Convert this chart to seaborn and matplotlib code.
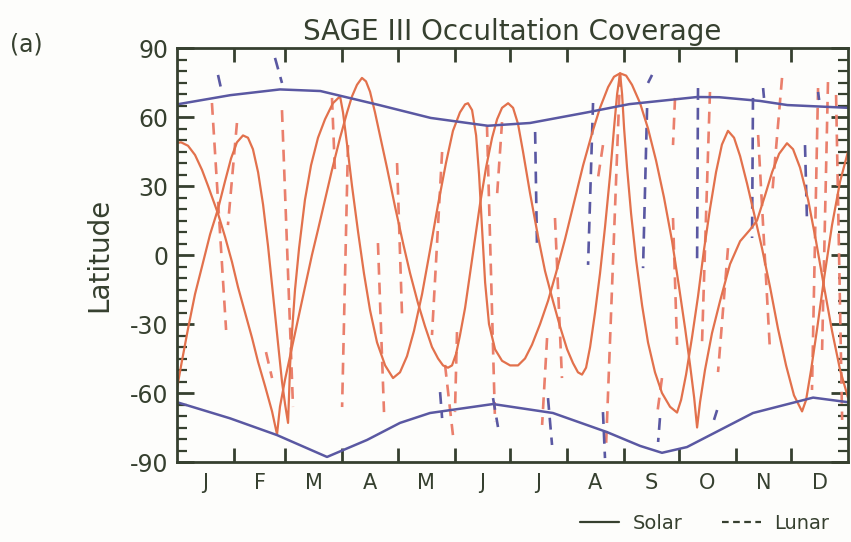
import matplotlib
matplotlib.use("Agg")
import matplotlib.pyplot as plt
from matplotlib.lines import Line2D
import seaborn as sns
import numpy as np
import pandas as pd

# month boundaries (day of year) and labels
month_edges = [0, 31, 59, 90, 120, 151, 181, 212, 243, 273, 304, 334, 365]
month_labels = ['J', 'F', 'M', 'A', 'M', 'J', 'J', 'A', 'S', 'O', 'N', 'D']

# solar occultation envelopes (blue)
north_day = [0, 29, 56, 78, 110, 138, 169, 192, 223, 246, 283, 295, 317, 332, 365]
north_lat = [65.5, 69.5, 72, 71.3, 65.2, 59.6, 56.2, 57.4, 62, 65.6, 68.7, 68.6, 67, 65.2, 64]
south_day = [0, 28.8, 54.4, 81.6, 103.4, 121.3, 137.6, 171.9, 204.5, 233.9, 251.9, 263.8, 277.4, 313.3, 346, 365]
south_lat = [-64, -71, -78.3, -87.8, -80.4, -73, -68.7, -64.8, -68.7, -77, -83, -86, -83.5, -68.7, -62, -64]

# solar occultation tracks (orange)
track1_day = [0, 2.2, 6.0, 9.8, 13.6, 16.9, 22.3, 26.1, 29.9, 33.2, 37.0, 40.8, 44.1, 47.9, 51.7, 54.4,
              56.0, 58.8, 61.5, 64.2, 66.9, 69.6, 73.4, 76.7, 80.5, 84.3, 88.7, 92.5, 95.2, 97.9,
              100.6, 102.8, 105.0, 107.7, 110.4, 114.2, 118.6, 123.0, 126.8, 131.1, 134.9, 138.7,
              142.0, 144.7, 147.4, 149.6, 151.8, 153.9, 156.7, 159.4, 162.1, 164.8, 168.1, 171.4,
              174.1, 176.8, 180.1, 182.8, 185.5, 188.2, 192.0, 196.4, 200.2, 204.5, 208.3, 212.2,
              215.4, 218.1, 220.3, 222.5, 224.7, 227.4, 230.1, 232.8, 235.6, 237.7, 239.4, 241.0,
              242.1, 243.2, 244.8, 247.0, 249.7, 253.0, 256.2, 260.0, 263.8, 268.2, 272.0, 274.2,
              276.9, 280.1, 283.4, 286.6, 289.9, 293.2, 296.4, 299.7, 303.0, 306.3, 310.1, 313.9,
              318.2, 322.6, 326.9, 331.3, 335.6, 340.0, 342.2, 344.9, 348.2, 352.0, 356.3, 360.7, 365.0]
track1_lat = [48.7, 49, 47.5, 43.5, 37, 30, 18, 8, -3, -14, -25, -36, -46.5, -57, -68, -78,
              -66, -54, -44, -34, -24, -14, 0, 11, 24, 37, 51, 62, 69, 74,
              77, 75.5, 71, 62, 52, 38, 21, 5, -8, -21, -31, -40,
              -45, -48, -49, -48, -43, -35, -23, -8, 7, 22, 38, 51,
              59, 64, 66, 64, 57, 45, 27, 8, -7, -20, -31, -41,
              -47, -51, -52, -49, -40, -25, -8, 12, 35, 55, 70, 79,
              70, 55, 38, 18, -2, -22, -38, -51, -60, -66, -68.5, -63,
              -52, -36, -18, 2, 20, 36, 48, 54, 51, 43, 31, 18,
              3, -14, -32, -48, -61, -68, -63, -50, -32, -10, 13, 32, 45]
track2_day = [0, 2.7, 6.0, 9.8, 13.6, 18.0, 22.3, 26.1, 29.4, 32.6, 35.9, 38.6, 41.3, 44.1, 46.8,
              49.5, 52.2, 54.9, 57.1, 58.8, 60.4, 60.9, 61.5, 62.6, 64.2, 66.4, 69.6, 72.9, 76.7,
              80.5, 84.8, 88.7, 90.3, 92.5, 95.2, 98.5, 101.7, 105.0, 108.8, 113.2, 117.5, 121.3,
              125.1, 128.9, 133.3, 137.6, 142.0, 146.3, 150.1, 153.9, 156.7, 158.3, 160.5, 162.7,
              164.3, 165.9, 167.6, 169.7, 173.0, 176.8, 181.2, 185.5, 189.3, 193.1, 197.5, 201.8,
              206.1, 211.1, 216.0, 220.9, 225.8, 230.1, 234.5, 237.7, 241.0, 244.3, 247.5, 251.9,
              256.2, 260.6, 264.9, 269.3, 273.1, 276.4, 279.1, 281.3, 282.9, 284.5, 287.2, 291.0,
              295.4, 300.8, 306.3, 311.7, 315.5, 319.9, 323.7, 327.5, 331.8, 335.1, 338.9, 343.3,
              347.6, 352.0, 356.3, 360.7, 365.0]
track2_lat = [-58, -46, -32, -17, -5, 9, 20, 32, 42, 49, 52, 51, 46, 36, 22,
              4, -17, -38, -55, -65, -73, -62, -48, -33, -15, 3, 24, 39, 51,
              59, 66, 69, 62, 48, 30, 10, -8, -24, -38, -48, -53.5, -51,
              -44, -33, -17, 2, 22, 40, 54, 62, 65.5, 66, 63, 52,
              35, 12, -12, -30, -41, -46, -48, -48, -45, -39, -30, -20,
              -8, 7, 23, 39, 53, 64, 73, 77.5, 79, 78, 74, 66,
              55, 41, 25, 6, -14, -32, -48, -62, -75, -64, -50, -34,
              -20, -4, 6, 11, 15, 26, 36, 44, 48.6, 46, 38, 24,
              6, -14, -33, -50, -62]

# lunar occultation passes (start day, start lat, end day, end lat)
lunar_o_d0 = [19.0, 32.6, 57.1, 48.4, 84.3, 93.0, 109.3, 119.7, 144.2, 145.8, 152.3, 168.6, 176.8,
              205.6, 201.3, 231.7, 241.0, 270.9, 269.8, 263.8, 289.9, 299.7, 316.1, 329.1, 348.7,
              354.1, 358.5]
lunar_o_l0 = [66.1, 57.4, 63.0, -42.2, 68.3, 47.8, 5.2, 40.0, 44.8, -47.8, -33.5, 56.5, 57.8,
              16.1, -36.1, 47.8, 78.3, 68.3, 16.1, -53.5, 70.9, 3.0, 52.2, 77.0, 72.6,
              75.2, 69.6]
lunar_o_d1 = [26.7, 27.7, 63.1, 51.7, 86.0, 89.8, 112.6, 122.4, 138.7, 150.1, 151.2, 173.0, 174.1,
              209.4, 198.6, 229.0, 233.4, 269.8, 272.0, 261.1, 285.6, 294.3, 322.6, 323.7, 345.4,
              350.9, 361.8]
lunar_o_l1 = [-32.6, 13.0, -66.1, -53.5, 34.8, -66.1, -68.3, -26.1, -34.8, -78.3, -68.3, -72.6, 26.1,
              -53.5, -73.9, 33.5, -82.6, 47.8, -39.1, -69.6, -37.8, -50.9, -42.2, 26.1, -58.7,
              -41.3, -71.7]

lunar_b_d0 = [22.3, 53.3, 194.8, 226.3, 255.7, 256.2, 283.4, 313.3, 318.8, 341.6, 348.7,
              143.1, 171.9, 201.8, 231.7, 262.7, 292.1]
lunar_b_l0 = [78.3, 85.7, 53.5, 66.1, 63.9, 74.8, 72.6, 68.3, 72.6, 47.8, 70.9,
              -59.6, -62.2, -62.2, -68.3, -70.9, -71.7]
lunar_b_d1 = [23.9, 57.1, 195.8, 223.6, 253.5, 258.4, 282.9, 312.8, 319.3, 342.7, 349.3,
              144.2, 174.6, 204.0, 232.8, 261.7, 293.8]
lunar_b_l1 = [72.6, 74.8, 4.3, -4.3, -5.7, 78.3, -3.0, 7.4, 68.3, 14.3, 67.4,
              -70.9, -74.8, -82.6, -88.3, -81.3, -67.4]

ORANGE = '#e2714c'
ORANGE_D = '#ea7f6c'
BLUE = '#5a58a2'
INK = '#36402f'


def segments(d0, l0, d1, l1):
    rows = []
    for i in range(len(d0)):
        rows.append({'seg': i, 'day': d0[i], 'lat': l0[i]})
        rows.append({'seg': i, 'day': d1[i], 'lat': l1[i]})
    return pd.DataFrame(rows)


sns.set_style('white')
plt.rcParams['font.family'] = ['DejaVu Sans']

fig = plt.figure(figsize=(8.51, 5.42), dpi=100)
fig.patch.set_facecolor('#fdfdfb')
ax = fig.add_axes([0.208, 0.1476, 0.7885, 0.7638])
ax.set_facecolor('#fdfdfb')

dash = (0, (4.5, 3))
sns.lineplot(data=segments(lunar_o_d0, lunar_o_l0, lunar_o_d1, lunar_o_l1), x='day', y='lat',
             units='seg', estimator=None, sort=False, color=ORANGE_D, lw=1.9, linestyle=dash, ax=ax)
sns.lineplot(data=segments(lunar_b_d0, lunar_b_l0, lunar_b_d1, lunar_b_l1), x='day', y='lat',
             units='seg', estimator=None, sort=False, color=BLUE, lw=1.9, linestyle=dash, ax=ax)

sns.lineplot(x=track1_day, y=track1_lat, sort=False, estimator=None, color=ORANGE, lw=1.6, ax=ax)
sns.lineplot(x=track2_day, y=track2_lat, sort=False, estimator=None, color=ORANGE, lw=1.6, ax=ax)
sns.lineplot(x=north_day, y=north_lat, sort=False, estimator=None, color=BLUE, lw=1.8, ax=ax)
sns.lineplot(x=south_day, y=south_lat, sort=False, estimator=None, color=BLUE, lw=1.8, ax=ax)

ax.set_xlim(0, 365)
ax.set_ylim(-90, 90)

# x axis: month boundaries as ticks, labels mid-month
ax.set_xticks(month_edges[1:-1])
ax.set_xticklabels([])
mids = [(month_edges[i] + month_edges[i + 1]) / 2 for i in range(12)]
ax.set_xticks(mids, minor=True)
ax.set_xticklabels(month_labels, minor=True)
ax.tick_params(axis='x', which='major', direction='in', length=10, width=2,
               top=True, bottom=True, color=INK)
ax.tick_params(axis='x', which='minor', length=0, pad=8, labelsize=15, labelcolor=INK)

yt = [-90, -60, -30, 0, 30, 60, 90]
ax.set_yticks(yt)
ax.set_yticklabels([str(v) for v in yt])
ax.set_yticks(np.arange(-90, 91, 5), minor=True)
ax.tick_params(axis='y', which='major', direction='in', length=12, width=2,
               left=True, right=True, color=INK, labelsize=17, labelcolor=INK, pad=6)
ax.tick_params(axis='y', which='minor', direction='in', length=7, width=1.6,
               left=True, right=True, color=INK)

for s in ax.spines.values():
    s.set_color(INK)
    s.set_linewidth(2)

ax.set_xlabel('')
ax.set_ylabel('Latitude', fontsize=20, color=INK, labelpad=12)
ax.set_title('SAGE III Occultation Coverage', fontsize=20, color=INK, pad=6)
fig.text(0.012, 0.905, '(a)', fontsize=17, color=INK)

handles = [Line2D([], [], color=INK, lw=1.6, linestyle='-'),
           Line2D([], [], color=INK, lw=1.6, linestyle=(0, (3, 2)))]
fig.legend(handles, ['Solar', 'Lunar'], loc='lower right', bbox_to_anchor=(0.995, -0.015),
           ncol=2, frameon=False, fontsize=14, handlelength=2.0, columnspacing=2.0,
           handletextpad=0.7, labelcolor=INK)

fig.savefig('out.png', dpi=100, facecolor=fig.get_facecolor())
